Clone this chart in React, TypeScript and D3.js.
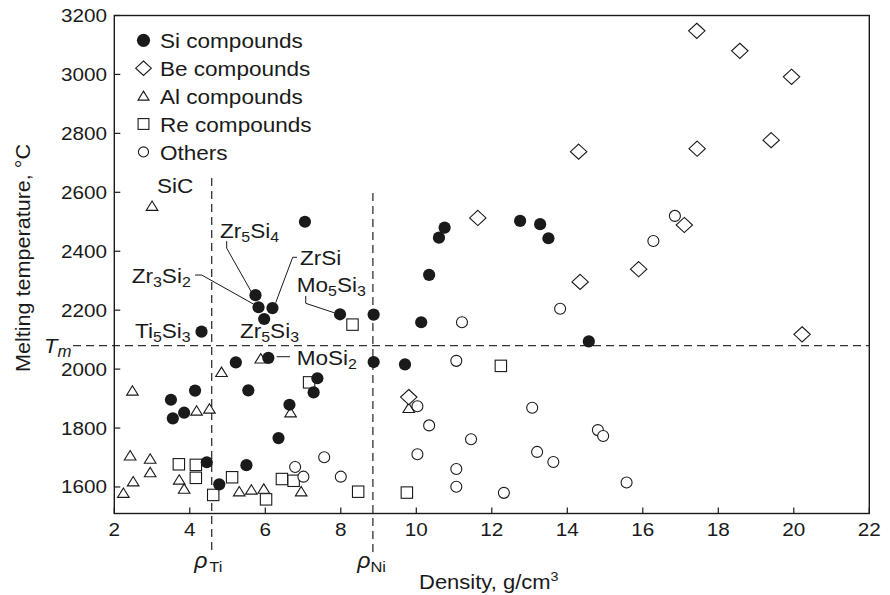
import React from 'react';
import * as d3 from 'd3';

type P = [number, number];

const siCompounds: P[] = [
  [7.05, 2500], [5.74, 2251], [5.82, 2210], [6.19, 2207], [5.97, 2170], [7.98, 2186],
  [4.31, 2127], [8.87, 2185], [10.13, 2159], [10.34, 2320], [10.6, 2446], [10.75, 2480],
  [12.75, 2503], [13.28, 2492], [13.5, 2444], [14.57, 2094], [6.08, 2038], [5.22, 2023],
  [7.38, 1969], [7.28, 1921], [5.55, 1928], [4.14, 1927], [3.5, 1896], [3.55, 1833],
  [3.85, 1852], [6.64, 1879], [6.35, 1766], [4.45, 1684], [4.78, 1609], [5.5, 1674],
  [8.87, 2024], [9.7, 2016],
];

const beCompounds: P[] = [
  [14.3, 2738], [11.63, 2513], [14.34, 2296], [9.8, 1905], [17.43, 3148], [18.57, 3080],
  [19.94, 2992], [19.4, 2777], [17.44, 2748], [17.1, 2489], [15.89, 2339], [20.22, 2118],
];

const alCompounds: P[] = [
  [3.0, 2553], [5.88, 2035], [4.84, 1989], [2.48, 1926], [4.18, 1858], [4.52, 1865],
  [6.67, 1852], [2.42, 1706], [2.95, 1695], [2.95, 1649], [2.5, 1618], [2.24, 1579],
  [3.72, 1624], [3.85, 1593], [5.31, 1584], [5.63, 1590], [5.96, 1593], [6.95, 1584],
  [9.8, 1867],
];

const reCompounds: P[] = [
  [8.31, 2151], [7.16, 1955], [3.71, 1677], [4.16, 1675], [4.16, 1631], [4.62, 1573],
  [5.12, 1633], [6.02, 1558], [6.44, 1627], [6.75, 1621], [8.46, 1584], [12.24, 2011],
  [9.75, 1581],
];

const others: P[] = [
  [11.21, 2159], [13.81, 2205], [7.56, 1701], [6.79, 1668], [7.01, 1635], [8.0, 1635],
  [11.06, 2028], [10.03, 1874], [10.34, 1809], [10.03, 1711], [11.45, 1762], [11.06, 1661],
  [11.06, 1601], [12.32, 1580], [13.07, 1869], [13.2, 1719], [13.63, 1685], [14.81, 1793],
  [14.95, 1773], [15.57, 1615], [16.85, 2520], [16.28, 2435],
];

const xTicks = [2, 4, 6, 8, 10, 12, 14, 16, 18, 20, 22];
const yTicks = [1600, 1800, 2000, 2200, 2400, 2600, 2800, 3000, 3200];
const tmValue = 2080;
const rhoTi = 4.58;
const rhoNi = 8.85;

const legendLabels = ['Si compounds', 'Be compounds', 'Al compounds', 'Re compounds', 'Others'];
const legendShapes = ['filled', 'diamond', 'triangle', 'square', 'circle'];

// annotation: text parts [main, sub, main, sub], anchor point (data), label offset, leader offsets
const annotations: { parts: string[]; pt: P; dx: number; dy: number; leader?: P[] }[] = [
  { parts: ['Zr', '5', 'Si', '4'], pt: [5.74, 2251], dx: -35.5, dy: -57.6, leader: [[-28.8, -54], [-28.8, -47], [-4, -3]] },
  { parts: ['Zr', '3', 'Si', '2'], pt: [5.82, 2210], dx: -126.8, dy: -24.5, leader: [[-63.5, -32.2], [-56.8, -32.2], [-3, -2]] },
  { parts: ['ZrSi'], pt: [6.19, 2207], dx: 27.5, dy: -43, leader: [[24.5, -50.8], [20.2, -50.8], [3.2, -5.4]] },
  { parts: ['Mo', '5', 'Si', '3'], pt: [7.98, 2186], dx: -43.3, dy: -22.6, leader: [[-34.3, -18.3], [-34.3, -11], [-6, -1.6]] },
  { parts: ['Zr', '5', 'Si', '3'], pt: [5.97, 2170], dx: -24.2, dy: 19 },
  { parts: ['Ti', '5', 'Si', '3'], pt: [4.31, 2127], dx: -66.5, dy: 6 },
  { parts: ['MoSi', '2'], pt: [6.08, 2038], dx: 28.4, dy: 7.1, leader: [[8.4, -1.2], [21.7, -1.2]] },
  { parts: ['SiC'], pt: [3.0, 2553], dx: 5, dy: -13 },
];

const FONT = "'Liberation Sans', Arial, Helvetica, sans-serif";
const INK = '#1a1a1a';

function Marker({ shape, cx, cy, s = 1 }: { shape: string; cx: number; cy: number; s?: number }) {
  const t = `translate(${cx},${cy}) scale(${s})`;
  if (shape === 'filled') return <circle cx={cx} cy={cy} r={6.1 * s} fill={INK} />;
  if (shape === 'circle') return <circle cx={cx} cy={cy} r={5.5 * s} fill="white" stroke={INK} strokeWidth={1.1} />;
  if (shape === 'diamond')
    return <path transform={t} d="M0,-7.6L8.2,0L0,7.6L-8.2,0Z" fill="white" stroke={INK} strokeWidth={1.1 / s} />;
  if (shape === 'triangle')
    return <path transform={t} d="M0,-5.2L5.8,4.2L-5.8,4.2Z" fill="white" stroke={INK} strokeWidth={1.1 / s} />;
  return <rect x={cx - 5.7 * s} y={cy - 5.7 * s} width={11.4 * s} height={11.4 * s} fill="white" stroke={INK} strokeWidth={1.1} />;
}

function SText({ x, y, size, sx = 1.1, anchor = 'start', italic = false, rotate = 0, children }: any) {
  return (
    <text
      transform={`translate(${x},${y})${rotate ? ` rotate(${rotate})` : ''} scale(${sx},1)`}
      fontSize={size}
      textAnchor={anchor}
      fontFamily={FONT}
      fontStyle={italic ? 'italic' : 'normal'}
      fill={INK}
    >
      {children}
    </text>
  );
}

export default function App() {
  const W = 890, H = 595;
  const x = d3.scaleLinear().domain([2, 22]).range([114.3, 869.3]);
  const y = d3.scaleLinear().domain([1510, 3200]).range([513.5, 15.5]);
  const [x0, x1] = x.range();
  const [y0, y1] = y.range();

  const series: { data: P[]; shape: string }[] = [
    { data: reCompounds, shape: 'square' },
    { data: others, shape: 'circle' },
    { data: alCompounds, shape: 'triangle' },
    { data: beCompounds, shape: 'diamond' },
    { data: siCompounds, shape: 'filled' },
  ];

  return (
    <svg width={W} height={H} style={{ position: 'absolute', left: 0, top: 0, background: 'white' }}>
      {/* reference lines */}
      <line x1={73} x2={x1} y1={y(tmValue)} y2={y(tmValue)} stroke="#333" strokeWidth={1.3} strokeDasharray="8,5" />
      <line x1={x(rhoTi)} x2={x(rhoTi)} y1={178} y2={553} stroke="#333" strokeWidth={1.3} strokeDasharray="8,5" />
      <line x1={x(rhoNi)} x2={x(rhoNi)} y1={193} y2={553} stroke="#333" strokeWidth={1.3} strokeDasharray="8,5" />

      {/* frame */}
      <rect x={x0} y={y1} width={x1 - x0} height={y0 - y1} fill="none" stroke={INK} strokeWidth={1.4} />
      {xTicks.map((t) => (
        <g key={'xt' + t}>
          <line x1={x(t)} x2={x(t)} y1={y0} y2={y0 - 6} stroke={INK} strokeWidth={1.2} />
          <SText x={x(t)} y={535.5} size={18} sx={1.15} anchor="middle">{t}</SText>
        </g>
      ))}
      {yTicks.map((t) => (
        <g key={'yt' + t}>
          <line x1={x0} x2={x0 + 6} y1={y(t)} y2={y(t)} stroke={INK} strokeWidth={1.2} />
          <SText x={107} y={y(t) + 6.5} size={18} sx={1.15} anchor="end">{t}</SText>
        </g>
      ))}

      {/* data */}
      {series.map((s, i) => (
        <g key={'s' + i}>
          {s.data.map((d, j) => (
            <Marker key={j} shape={s.shape} cx={x(d[0])} cy={y(d[1])} />
          ))}
        </g>
      ))}

      {/* annotations */}
      {annotations.map((a, i) => {
        const px = x(a.pt[0]), py = y(a.pt[1]);
        return (
          <g key={'a' + i}>
            {a.leader && (
              <polyline
                points={a.leader.map((p) => `${px + p[0]},${py + p[1]}`).join(' ')}
                fill="none"
                stroke={INK}
                strokeWidth={1}
              />
            )}
            <SText x={px + a.dx} y={py + a.dy} size={20.5} sx={1.1}>
              {a.parts.map((p, k) =>
                k % 2 === 0 ? (
                  <tspan key={k} dy={k === 0 ? 0 : -4}>{p}</tspan>
                ) : (
                  <tspan key={k} fontSize={14.5} dy={4}>{p}</tspan>
                )
              )}
            </SText>
          </g>
        );
      })}

      {/* legend */}
      {legendLabels.map((l, i) => (
        <g key={'l' + i}>
          <Marker shape={legendShapes[i]} cx={143.5} cy={40.3 + i * 27.9} s={i === 0 ? 1.08 : i === 1 ? 0.95 : i === 4 ? 0.92 : 0.95} />
          <SText x={160} y={48 + i * 27.9} size={20.5} sx={1.1}>{l}</SText>
        </g>
      ))}

      {/* rho labels */}
      <SText x={x(rhoTi) - 17.5} y={568} size={22} sx={1.05} italic>ρ</SText>
      <SText x={x(rhoTi) - 2.5} y={572} size={15} sx={1.1}>Ti</SText>
      <SText x={x(rhoNi) - 15.7} y={568} size={22} sx={1.05} italic>ρ</SText>
      <SText x={x(rhoNi) - 2.5} y={572} size={15} sx={1.1}>Ni</SText>

      {/* Tm label */}
      <SText x={44} y={y(tmValue) + 7} size={21} sx={1.05} italic>
        <tspan>T</tspan>
        <tspan fontSize={16} dy={4.5}>m</tspan>
      </SText>

      {/* axis titles */}
      <SText x={419} y={589} size={20} sx={1.1}>
        <tspan>Density, g/cm</tspan>
        <tspan fontSize={13} dy={-8}>3</tspan>
      </SText>
      <SText x={30} y={258} size={20} sx={1.08} anchor="middle" rotate={-90}>Melting temperature, °C</SText>
    </svg>
  );
}
